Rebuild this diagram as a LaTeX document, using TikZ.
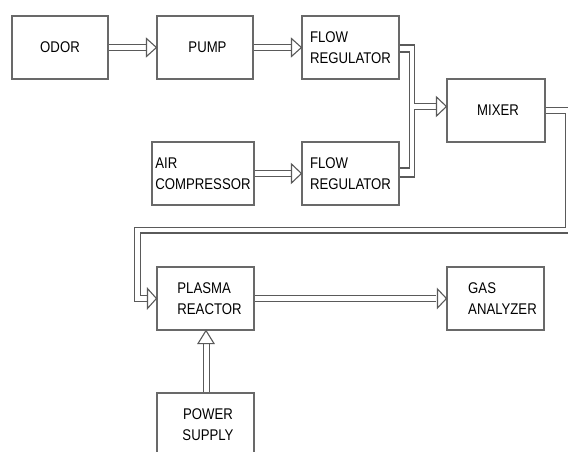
\documentclass[tikz,border=0pt]{standalone}
\usepackage{fontspec}
\setmainfont[FakeStretch=0.85]{Liberation Sans}
\usetikzlibrary{calc}
\pgfdeclarelayer{background}
\pgfsetlayers{background,main}
\definecolor{linec}{RGB}{90,90,90}
\definecolor{boxc}{RGB}{105,105,105}
\begin{document}
\begin{tikzpicture}[x=1pt,y=-1pt,
  box/.style={draw=boxc, line width=1.1pt, minimum height=63pt, inner sep=0pt, align=left,
    font=\fontsize{15.5}{21}\selectfont},
  pipe/.style={draw=linec, line width=1.1pt, double=white, double distance=4.8pt},
  tube/.style={draw=linec, line width=1.1pt},
  headc/.style={draw=linec, fill=white, line width=1.1pt, line join=miter},
]
\useasboundingbox (0,0) rectangle (568,452);
% boxes
\node[box, minimum width=96pt] (odor) at (60,47.5) {ODOR};
\node[box, minimum width=96pt] (pump) at (205,47.5) {\hspace*{5pt}PUMP};
\node[box, minimum width=97pt] (fr1) at (350.5,47.5) {FLOW\\REGULATOR};
\node[box, minimum width=102pt] (air) at (203,173.5) {AIR\\COMPRESSOR};
\node[box, minimum width=97pt] (fr2) at (350.5,173.5) {FLOW\\REGULATOR};
\node[box, minimum width=98pt] (mixer) at (496,110.5) {\hspace*{4pt}MIXER};
\node[box, minimum width=97pt] (plasma) at (205.5,298.5) {\hspace*{8pt}PLASMA\\\hspace*{8pt}REACTOR};
\node[box, minimum width=97pt] (gas) at (495.5,298.5) {\hspace*{14pt}GAS\\\hspace*{14pt}ANALYZER};
\node[box, minimum width=97pt, align=center] (power) at (205.5,424.5) {\hspace*{5pt}POWER\\\hspace*{5pt}SUPPLY};
% helper coordinates
\coordinate (mixin) at ([yshift=4pt]mixer.west);
\coordinate (mixbase) at ([xshift=-10pt]mixin);
\coordinate (r1) at (568,230);
\coordinate (r2) at (137.5,298.5);
\begin{pgfonlayer}{background}
\draw[pipe, shorten >=10pt] (odor) -- (pump);
\draw[pipe, shorten >=10pt] (pump) -- (fr1);
\draw[pipe, shorten >=10pt] (air) -- (fr2);
\draw[pipe] (mixer.east) -| (r1) -| (r2) -- ([xshift=-9pt]plasma.west);
\draw[pipe, shorten >=10pt] (plasma) -- (gas);
\draw[pipe] ([xshift=1pt]power.north) -- ([xshift=1pt,yshift=-13pt]plasma.south);
\end{pgfonlayer}
% merging tubes
\draw[tube] ([yshift=2.5pt]fr1.east) -- ++(15,0) |- ([yshift=3.25pt]mixbase);
\draw[tube] ([yshift=-4.5pt]fr1.east) -- ++(10,0) |- ([yshift=5.5pt]fr2.east);
\draw[tube] ([yshift=-3.5pt]fr2.east) -- ++(15,0) |- ([yshift=-3.25pt]mixbase);
% arrow heads (open triangles)
\draw[headc] (pump.west) -- ++(-10,-9) -- ++(0,18) -- cycle;
\draw[headc] (fr1.west) -- ++(-10,-9) -- ++(0,18) -- cycle;
\draw[headc] (fr2.west) -- ++(-10,-9.5) -- ++(0,19) -- cycle;
\draw[headc] (mixin) -- ++(-10,-9.5) -- ++(0,19) -- cycle;
\draw[headc] (plasma.west) -- ++(-9,-10) -- ++(0,20) -- cycle;
\draw[headc] (gas.west) -- ++(-9,-9.5) -- ++(0,19) -- cycle;
\draw[headc] ([xshift=0.5pt]plasma.south) -- ++(-8,13) -- ++(16,0) -- cycle;
\end{tikzpicture}
\end{document}
